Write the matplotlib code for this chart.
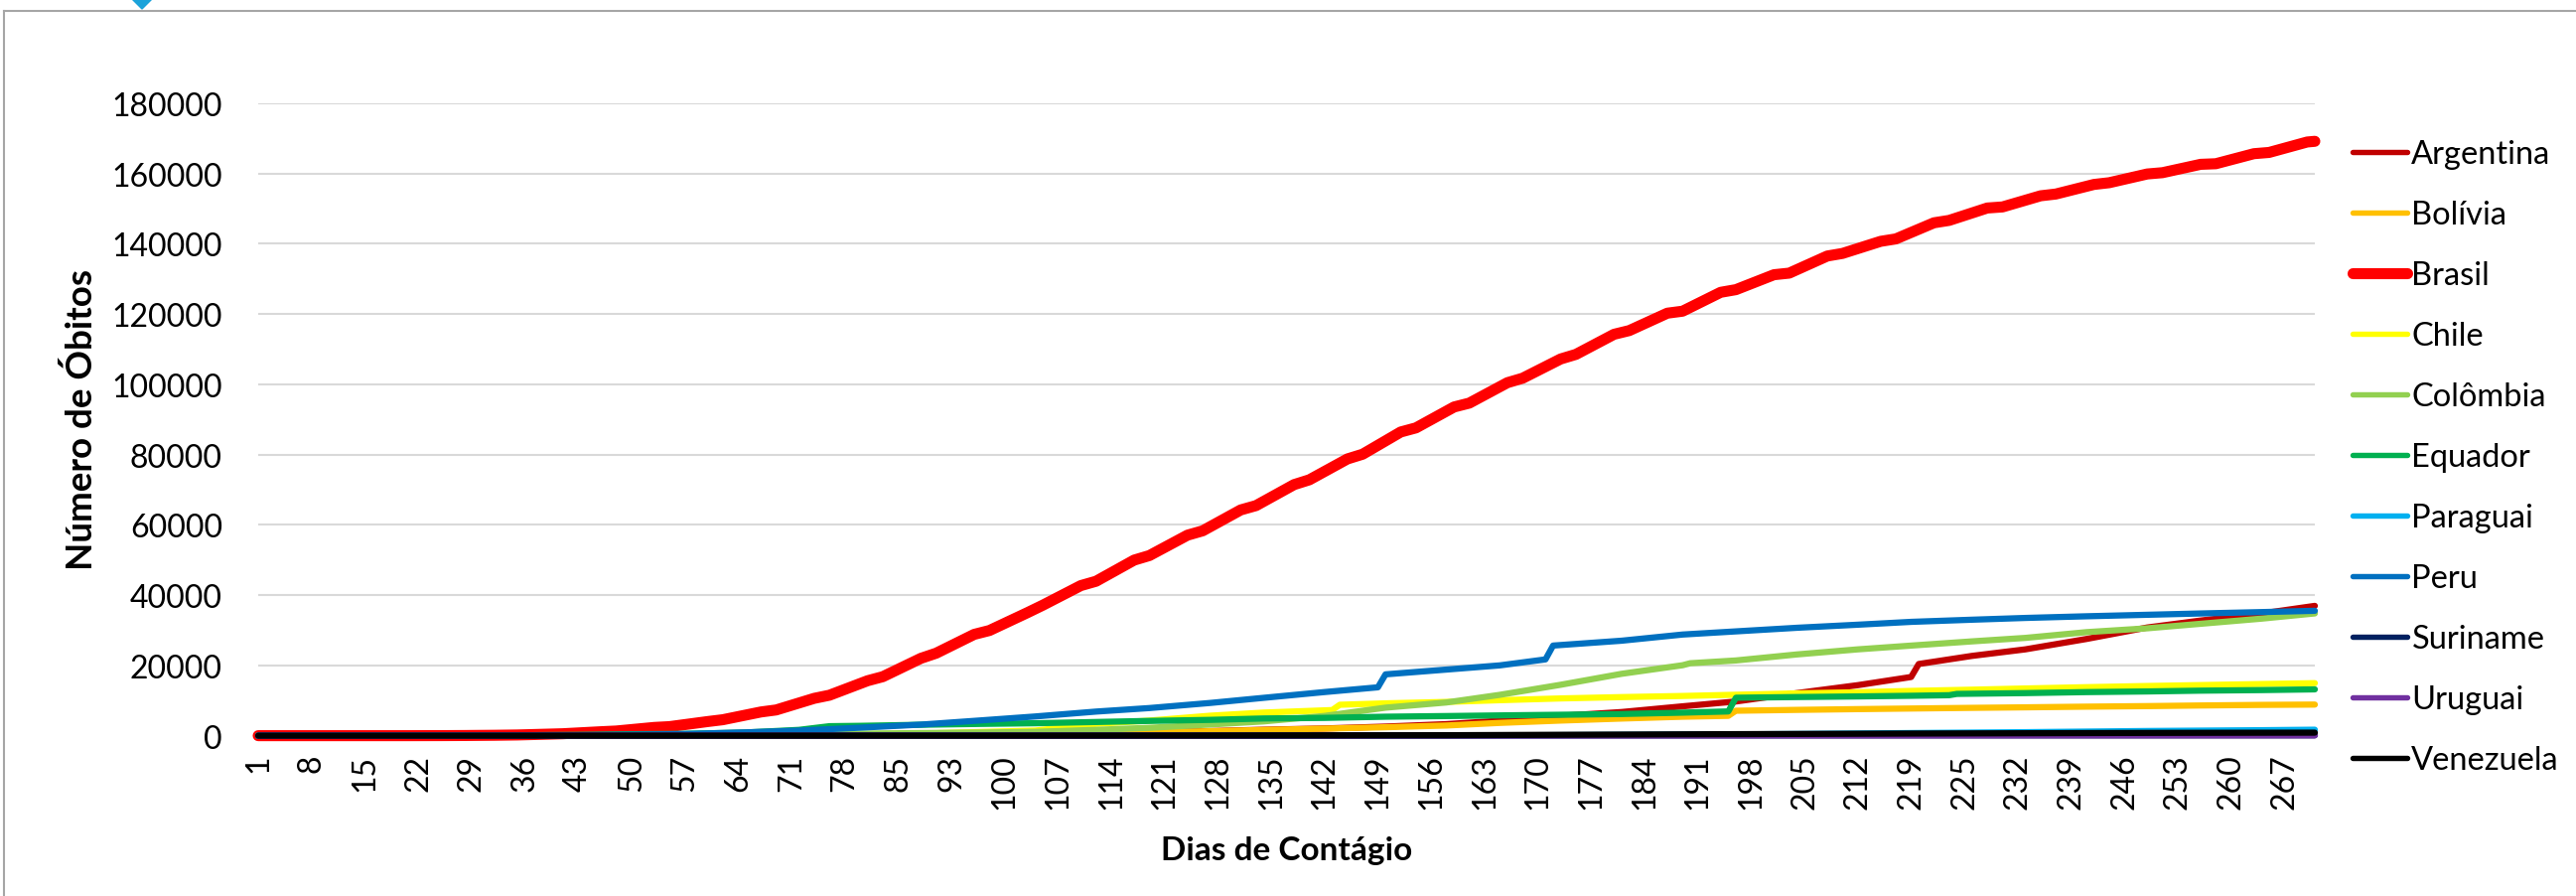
import matplotlib.pyplot as plt
from matplotlib.patches import Polygon
from matplotlib.lines import Line2D

plt.rcParams['font.family'] = ['Lato', 'DejaVu Sans']

# eixo x: indice do dia (0 = 26/02/2020), rotulo a cada 7 categorias
rotulos_x = ['1', '8', '15', '22', '29', '36', '43', '50', '57', '64', '71', '78', '85',
             '93', '100', '107', '114', '121', '128', '135', '142', '149', '156', '163',
             '170', '177', '184', '191', '198', '205', '212', '219',
             '225', '232', '239', '246', '253', '260', '267']
n_dias = 271

argentina_dia = [0, 9, 10, 20, 27, 34, 41, 49, 56, 64, 71, 79, 87, 95, 102, 110, 117, 125, 132, 140,
                 148, 156, 163, 171, 179, 187, 194, 202, 210, 217, 218, 225, 232, 240, 248, 255, 263, 270]
argentina_obitos = [0, 0, 1, 2, 6, 27, 72, 98, 152, 218, 282, 353, 445, 539, 649, 815, 1011, 1307, 1694, 2050,
                    2588, 3288, 4251, 5637, 6730, 8353, 9739, 12116, 14376, 16700, 20400, 22710, 24572, 27519,
                    30792, 32766, 34782, 36950]

bolivia_dia = [0, 32, 33, 40, 49, 56, 64, 71, 79, 87, 95, 102, 110, 117, 125, 132, 140, 148, 156, 163,
               171, 179, 187, 193, 194, 202, 210, 217, 225, 232, 240, 248, 255, 263, 270]
bolivia_obitos = [0, 0, 1, 7, 29, 43, 62, 102, 189, 280, 376, 518, 715, 950, 1271, 1638, 2006, 2407, 2894, 3640,
                  4306, 4877, 5398, 5650, 7100, 7344, 7560, 7731, 7920, 8069, 8260, 8417, 8595, 8760, 8852]

brasil_dia = [0, 19, 20, 24, 27, 31, 34, 38, 40, 45, 47, 52, 54, 59, 61, 66, 68, 73, 75, 80, 82, 87, 89,
              94, 96, 101, 103, 108, 110, 115, 117, 122, 124, 129, 131, 136, 138, 143, 145, 150, 152,
              157, 159, 164, 166, 171, 173, 178, 180, 185, 187, 192, 194, 199, 201, 206, 208, 213, 215,
              220, 222, 227, 229, 234, 236, 241, 243, 248, 250, 255, 257, 262, 264, 269, 270]
brasil_obitos = [0, 0, 1, 18, 46, 114, 201, 432, 553, 1124, 1328, 2347, 2575, 4016, 4543, 6750, 7321,
                 10627, 11519, 15633, 16792, 22013, 23473, 28834, 29937, 35026, 37134, 42720, 43959,
                 49976, 51271, 57070, 58314, 64265, 65487, 71469, 72833, 78772, 80120, 86449, 87618,
                 93563, 94665, 100477, 101752, 107232, 108536, 114250, 115309, 120262, 120828, 126203,
                 126960, 131210, 131663, 136532, 137272, 140709, 141406, 145987, 146675, 150198, 150506,
                 153675, 154176, 156903, 157397, 159884, 160253, 162628, 162802, 165658, 166014, 168989,
                 169183]

chile_dia = [0, 23, 24, 34, 41, 49, 56, 64, 71, 79, 87, 95, 102, 110, 117, 125, 132, 141, 142, 148,
             156, 163, 171, 179, 187, 194, 202, 210, 217, 225, 232, 240, 248, 255, 263, 270]
chile_obitos = [0, 0, 1, 12, 27, 94, 139, 227, 285, 394, 589, 1054, 1448, 3362, 4295, 5688, 6573, 7290,
                8800, 9200, 9608, 10100, 10600, 10980, 11300, 11650, 12040, 12350, 12740, 13090, 13430,
                13800, 14140, 14400, 14700, 14950]

colombia_dia = [0, 23, 24, 34, 41, 49, 56, 64, 71, 79, 87, 95, 102, 110, 117, 125, 132, 140, 148, 156,
                163, 171, 179, 187, 188, 194, 202, 210, 217, 225, 232, 240, 248, 255, 263, 270]
colombia_obitos = [0, 0, 1, 16, 54, 131, 196, 278, 358, 562, 750, 890, 1099, 1667, 2237, 3178, 4064,
                   5625, 7975, 9454, 11624, 14492, 17612, 20052, 20618, 21412, 23123, 24570, 25641,
                   26844, 27834, 29464, 30565, 31847, 33312, 34800]

equador_dia = [0, 16, 24, 27, 34, 38, 44, 49, 56, 64, 71, 75, 79, 87, 95, 102, 110, 117, 125, 132, 140,
               148, 156, 163, 171, 179, 187, 193, 194, 202, 210, 217, 222, 223, 232, 240, 248, 255, 263, 270]
equador_obitos = [0, 2, 14, 34, 93, 191, 272, 421, 520, 900, 1654, 2700, 2800, 3108, 3358, 3534, 3896,
                  4200, 4502, 4900, 5063, 5400, 5584, 5770, 5955, 6168, 6556, 6900, 10800, 10996, 11171,
                  11355, 11520, 11890, 12118, 12403, 12588, 12815, 12977, 13183]

paraguai_dia = [0, 23, 64, 95, 125, 156, 171, 187, 202, 217, 232, 248, 263, 270]
paraguai_obitos = [0, 1, 10, 11, 20, 85, 150, 288, 480, 751, 1000, 1333, 1560, 1700]

peru_dia = [0, 21, 22, 27, 34, 41, 49, 56, 64, 71, 79, 87, 95, 102, 110, 117, 125, 132, 140, 147, 148,
            156, 163, 169, 170, 179, 187, 194, 202, 210, 217, 225, 232, 240, 248, 255, 263, 270]
peru_obitos = [0, 0, 1, 5, 24, 121, 274, 484, 943, 1444, 2267, 3148, 4371, 5465, 6860, 7861, 9317,
               10772, 12417, 13767, 17455, 18816, 20007, 21713, 25648, 27034, 28788, 29687, 30710,
               31586, 32396, 33009, 33512, 33984, 34411, 34784, 35177, 35549]

suriname_dia = [0, 39, 125, 156, 187, 217, 248, 270]
suriname_obitos = [0, 1, 13, 26, 68, 102, 110, 118]

uruguai_dia = [0, 31, 64, 95, 125, 156, 187, 217, 248, 270]
uruguai_obitos = [0, 1, 17, 23, 27, 33, 45, 48, 64, 71]

venezuela_dia = [0, 29, 64, 95, 125, 156, 187, 217, 248, 270]
venezuela_obitos = [0, 1, 10, 14, 46, 133, 384, 602, 792, 861]

series = [
    ('Argentina', argentina_dia, argentina_obitos, '#C00000'),
    ('Bolívia', bolivia_dia, bolivia_obitos, '#FFC000'),
    ('Brasil', brasil_dia, brasil_obitos, '#FF0000'),
    ('Chile', chile_dia, chile_obitos, '#FFFF00'),
    ('Colômbia', colombia_dia, colombia_obitos, '#92D050'),
    ('Equador', equador_dia, equador_obitos, '#00B050'),
    ('Paraguai', paraguai_dia, paraguai_obitos, '#00B0F0'),
    ('Peru', peru_dia, peru_obitos, '#0070C0'),
    ('Suriname', suriname_dia, suriname_obitos, '#002060'),
    ('Uruguai', uruguai_dia, uruguai_obitos, '#7030A0'),
    ('Venezuela', venezuela_dia, venezuela_obitos, '#000000'),
]

W, H = 2594, 903
fig = plt.figure(figsize=(W / 100, H / 100), dpi=100)
ax = fig.add_axes([260 / W, 1 - 741.6 / H, (2331 - 260) / W, (741.6 - 105) / H])

LW, LW_BR = 4.5, 8.0
for nome, dia, obitos, cor in series:
    lw = LW_BR if nome == 'Brasil' else LW
    ax.plot(dia, obitos, color=cor, lw=lw, label=nome, clip_on=False,
            solid_capstyle='round', solid_joinstyle='round')

ax.set_xlim(0, n_dias - 1)
ax.set_ylim(0, 180000)
ax.set_yticks(range(0, 180001, 20000))
ax.set_yticklabels([str(v) for v in range(0, 180001, 20000)], fontsize=23)
ax.set_xticks(range(0, 7 * len(rotulos_x), 7))
ax.set_xticklabels(rotulos_x, rotation=90, fontsize=23)
ax.tick_params(axis='x', length=0, pad=13)
ax.tick_params(axis='y', length=0, pad=26)
ax.grid(axis='y', color='#D9D9D9', lw=1.5)
ax.set_axisbelow(True)
for s in ax.spines.values():
    s.set_visible(False)

fig.text(1296 / W, 1 - 866 / H, 'Dias de Contágio', ha='center', va='baseline',
         fontsize=24, fontweight='bold')
fig.text(93 / W, 1 - 423 / H, 'Número de Óbitos', rotation=90, rotation_mode='anchor',
         ha='center', va='baseline', fontsize=26.5, fontweight='bold')

handles = [Line2D([], [], color=c, lw=(LW_BR if n == 'Brasil' else LW - 0.6), solid_capstyle='round')
           for n, d, o, c in series]
fig.legend(handles, [s[0] for s in series], loc='upper left',
           bbox_to_anchor=(2369 / W, 1 - 141 / H), frameon=False, fontsize=23.5,
           handlelength=1.7, handletextpad=0.12, labelspacing=0.95, borderpad=0, borderaxespad=0)

# moldura cortada do grafico original
fig.add_artist(Line2D([4 / W, 4 / W], [0, 1 - 12 / H], color='#A6A6A6', lw=1.5))
fig.add_artist(Line2D([4 / W, 1], [1 - 12 / H, 1 - 12 / H], color='#A6A6A6', lw=1.5))
fig.add_artist(Polygon([(130 / W, 1 + 3 / H), (143 / W, 1 - 10 / H), (156 / W, 1 + 3 / H)],
                       closed=True, color='#1BA3DA', transform=fig.transFigure))

fig.savefig('out.png', dpi=100)
